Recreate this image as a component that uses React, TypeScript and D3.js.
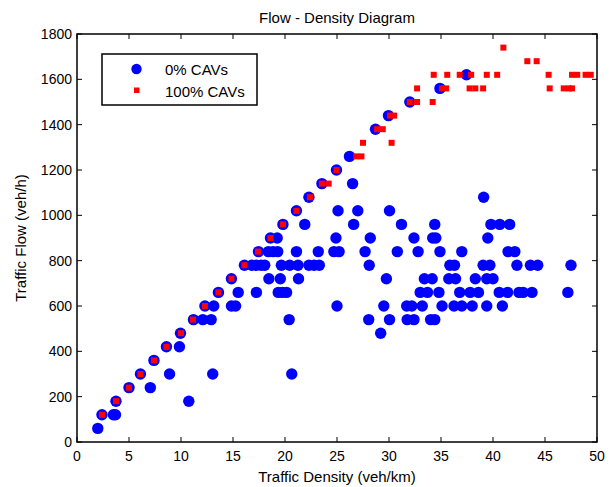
import React from 'react';
import * as d3 from 'd3';

// density (veh/km), flow (veh/h)
const cav0Density = [
  2.0, 2.4, 3.5, 3.7, 3.75, 5.0, 7.05, 6.1, 8.9, 7.4, 8.6, 9.85, 9.95, 10.75, 11.2, 12.1, 12.9,
  12.3, 13.15, 13.05, 13.6, 14.85, 14.85, 15.25, 15.5, 16.1, 16.8, 17.25, 17.7, 18.05, 17.25,
  17.45, 18.4, 18.85, 19.3, 18.6, 19.25, 18.45, 19.55, 19.65, 20.45, 21.25, 19.35, 19.75, 20.15,
  21.1, 21.3, 20.4, 20.65, 22.3, 22.8, 23.3, 23.2, 24.7, 25.2, 24.9, 25.0, 19.8, 21.9, 21.1,
  22.3, 23.55, 24.95, 25.1,
  26.2, 26.5, 28.7, 29.95, 32.0, 34.9, 37.45, 39.1, 27.0, 30.05, 26.6, 31.2, 34.4, 39.8, 40.65, 41.6,
  28.2, 32.4, 34.2, 34.5, 39.5,
  27.7, 30.8, 32.8, 34.9, 37.0, 41.45, 42.1,
  28.1, 35.85, 36.3, 39.05, 39.7, 42.3, 43.6, 44.3, 47.5,
  29.75, 33.4, 34.15, 35.75, 36.4, 38.3, 39.4, 40.0,
  33.0, 33.7, 34.8, 36.8, 37.8, 38.6, 40.6, 41.4, 42.5, 42.9, 43.75, 47.2,
  29.5, 31.7, 32.2, 33.2, 35.1, 36.25, 37.0, 38.0, 39.4, 40.9,
  28.05, 30.05, 31.75, 32.4, 34.0, 34.4,
  29.2,
];
const cav0Flow = [
  60, 120, 120, 120, 180, 240, 240, 300, 300, 360, 420, 420, 480, 180, 540, 540, 540,
  600, 600, 300, 660, 720, 600, 600, 660, 780, 780, 780, 780, 780, 660,
  840, 840, 840, 840, 900, 900, 720, 720, 780, 780, 780, 660, 660, 660,
  840, 720, 540, 300, 780, 780, 780, 840, 840, 840, 900, 600, 960, 960, 1020,
  1080, 1140, 1200, 1020,
  1260, 1140, 1380, 1440, 1500, 1560, 1620, 1080, 1020, 1020, 960, 960, 960, 960, 960, 960,
  900, 900, 900, 900, 900,
  840, 840, 840, 840, 840, 840, 840,
  780, 780, 780, 780, 780, 780, 780, 780, 780,
  720, 720, 720, 720, 720, 720, 720, 720,
  660, 660, 660, 660, 660, 660, 660, 660, 660, 660, 660, 660,
  600, 600, 600, 600, 600, 600, 600, 600, 600, 600,
  540, 540, 540, 540, 540, 540,
  480,
];

const cav100Density = [
  2.4, 3.75, 5.0, 6.1, 7.4, 8.6, 10.0, 11.15, 12.3, 13.6, 14.85, 16.1, 17.4, 18.6, 19.8, 21.1,
  22.4, 23.55, 24.2, 24.95, 26.85, 27.35, 27.5, 28.85, 29.4, 30.25, 30.1, 30.5, 32.0, 32.7,
  34.2, 32.7, 35.1, 35.5, 34.3, 35.6, 36.8, 37.9, 39.4, 40.4, 37.75, 38.3, 39.05, 41.0, 43.3,
  44.2, 45.35, 45.45, 46.8, 47.3, 47.6, 47.6, 48.1, 48.9, 49.4,
];
const cav100Flow = [
  120, 180, 240, 300, 360, 420, 480, 540, 600, 660, 720, 780, 840, 900, 960, 1020,
  1080, 1140, 1140, 1200, 1260, 1260, 1320, 1380, 1380, 1320, 1440, 1440, 1500, 1500,
  1500, 1560, 1560, 1560, 1620, 1620, 1620, 1620, 1620, 1620, 1560, 1560, 1560, 1740, 1680,
  1680, 1620, 1560, 1560, 1560, 1560, 1620, 1620, 1620, 1620,
];

const xTicks = [0, 5, 10, 15, 20, 25, 30, 35, 40, 45, 50];
const yTicks = [0, 200, 400, 600, 800, 1000, 1200, 1400, 1600, 1800];
const legendLabels = ['0% CAVs', '100% CAVs'];

const W = 613;
const H = 487;
const margin = { top: 34, right: 16, bottom: 45, left: 77 };
const FONT = '"Liberation Sans", Arial, Helvetica, sans-serif';

export default function App() {
  const innerW = W - margin.left - margin.right;
  const innerH = H - margin.top - margin.bottom;

  const x = d3.scaleLinear().domain([0, 50]).range([0, innerW]);
  const y = d3.scaleLinear().domain([0, 1800]).range([innerH, 0]);

  const sq = 6;
  const tick = 5;

  return (
    <svg
      width={W}
      height={H}
      style={{ position: 'absolute', left: 0, top: 0, background: '#fff' }}
      fontFamily={FONT}
    >
      <rect width={W} height={H} fill="#fff" />
      <text x={margin.left + innerW / 2} y={23} textAnchor="middle" fontSize={15}>
        Flow - Density Diagram
      </text>
      <g transform={`translate(${margin.left},${margin.top})`}>
        {cav0Density.map((d, i) => (
          <circle key={'b' + i} cx={x(d)} cy={y(cav0Flow[i])} r={5.7} fill="#0000ff" />
        ))}
        {cav100Density.map((d, i) => (
          <rect
            key={'r' + i}
            x={x(d) - sq / 2}
            y={y(cav100Flow[i]) - sq / 2}
            width={sq}
            height={sq}
            fill="#ff0000"
          />
        ))}

        {/* ticks on all four sides, pointing in */}
        {xTicks.map((t) => (
          <g key={'x' + t}>
            <line x1={x(t)} x2={x(t)} y1={innerH} y2={innerH - tick} stroke="#000" />
            <line x1={x(t)} x2={x(t)} y1={0} y2={tick} stroke="#000" />
            <text x={x(t)} y={innerH + 19} textAnchor="middle" fontSize={14}>
              {t}
            </text>
          </g>
        ))}
        {yTicks.map((t) => (
          <g key={'y' + t}>
            <line x1={0} x2={tick} y1={y(t)} y2={y(t)} stroke="#000" />
            <line x1={innerW} x2={innerW - tick} y1={y(t)} y2={y(t)} stroke="#000" />
            <text x={-5} y={y(t)} dy="0.35em" textAnchor="end" fontSize={14}>
              {t}
            </text>
          </g>
        ))}
        <rect width={innerW} height={innerH} fill="none" stroke="#000" strokeWidth={1.5} />

        {/* legend */}
        <g transform="translate(25,20)">
          <rect width={155} height={51} fill="#fff" stroke="#000" strokeWidth={1.5} />
          <circle cx={34.5} cy={15} r={5.2} fill="#0000ff" />
          <rect x={32} y={33.5} width={5.5} height={5.5} fill="#ff0000" />
          <text x={63} y={20.5} fontSize={15}>
            {legendLabels[0]}
          </text>
          <text x={63} y={43} fontSize={15}>
            {legendLabels[1]}
          </text>
        </g>
      </g>
      <text x={margin.left + innerW / 2} y={482} textAnchor="middle" fontSize={15}>
        Traffic Density (veh/km)
      </text>
      <text
        transform={`translate(26,${margin.top + innerH / 2}) rotate(-90)`}
        textAnchor="middle"
        fontSize={15}
      >
        Traffic Flow (veh/h)
      </text>
    </svg>
  );
}
